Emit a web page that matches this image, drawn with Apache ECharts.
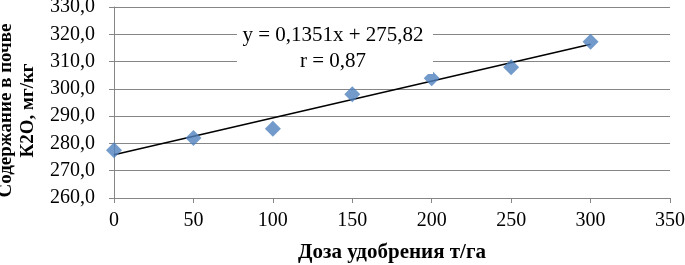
<!DOCTYPE html>
<html>
<head>
<meta charset="utf-8">
<script src="https://cdn.jsdelivr.net/npm/echarts@6/dist/echarts.min.js"></script>
<style>
  html, body { margin: 0; padding: 0; background: #fff; }
  #chart { width: 685px; height: 265px; }
</style>
</head>
<body>
<div id="chart"></div>
<script>
// данные
const doses = [0, 50, 100, 150, 200, 250, 300];
const k2o = [277.5, 282, 285.4, 298, 303.9, 307.9, 317.3];
// линия тренда y = 0,1351x + 275,82
const trendX = [0, 300];
const trendY = [275.82, 316.35];
const trendText = ['y = 0,1351x + 275,82', 'r = 0,87'];

const font = 'Liberation Serif';
const chart = echarts.init(document.getElementById('chart'));

chart.setOption({
    animation: false,
    grid: { left: 114, right: 15, top: 7, bottom: 67, outerBoundsMode: 'none' },
    xAxis: {
        type: 'value',
        min: 0, max: 350, interval: 50,
        name: 'Доза удобрения т/га',
        nameLocation: 'middle',
        nameGap: 44,
        nameTextStyle: { fontFamily: font, fontSize: 21, fontWeight: 'bold', color: '#000' },
        axisLine: { show: true, lineStyle: { color: '#868686', width: 1 } },
        axisTick: { show: true, length: 5, lineStyle: { color: '#868686' } },
        axisLabel: { fontFamily: font, fontSize: 20, color: '#000', margin: 13 },
        splitLine: { show: false }
    },
    yAxis: {
        type: 'value',
        min: 260, max: 330, interval: 10,
        name: 'Содержание в почве\nК2О, мг/кг',
        nameLocation: 'middle',
        nameGap: 65,
        nameTextStyle: {
            fontFamily: font, fontSize: 19, fontWeight: 'bold', color: '#000',
            lineHeight: 22, padding: [0, 16, 0, 0]
        },
        axisLine: { show: true, lineStyle: { color: '#868686', width: 1 } },
        axisTick: { show: true, length: 5, lineStyle: { color: '#868686' } },
        axisLabel: {
            fontFamily: font, fontSize: 20, color: '#000', margin: 19,
            formatter: v => v.toFixed(1).replace('.', ',')
        },
        splitLine: { show: true, lineStyle: { color: '#868686', width: 1 } }
    },
    graphic: [
        {
            type: 'rect',
            shape: { x: 237, y: 22, width: 196, height: 52 },
            style: { fill: '#fff' },
            z: 10
        },
        {
            type: 'text',
            x: 333, y: 35,
            style: {
                text: trendText[0], fontFamily: font, fontSize: 21, fill: '#000',
                align: 'center', verticalAlign: 'middle'
            },
            z: 11
        },
        {
            type: 'text',
            x: 333, y: 61,
            style: {
                text: trendText[1], fontFamily: font, fontSize: 21, fill: '#000',
                align: 'center', verticalAlign: 'middle'
            },
            z: 11
        }
    ],
    series: [
        {
            type: 'line',
            data: trendX.map((x, i) => [x, trendY[i]]),
            symbol: 'none',
            lineStyle: { color: '#000', width: 1.5 },
            z: 3
        },
        {
            type: 'scatter',
            data: doses.map((x, i) => [x, k2o[i]]),
            symbol: 'diamond',
            symbolSize: [16, 16],
            itemStyle: { color: '#4F81BD' },
            z: 4
        }
    ]
});
</script>
</body>
</html>
